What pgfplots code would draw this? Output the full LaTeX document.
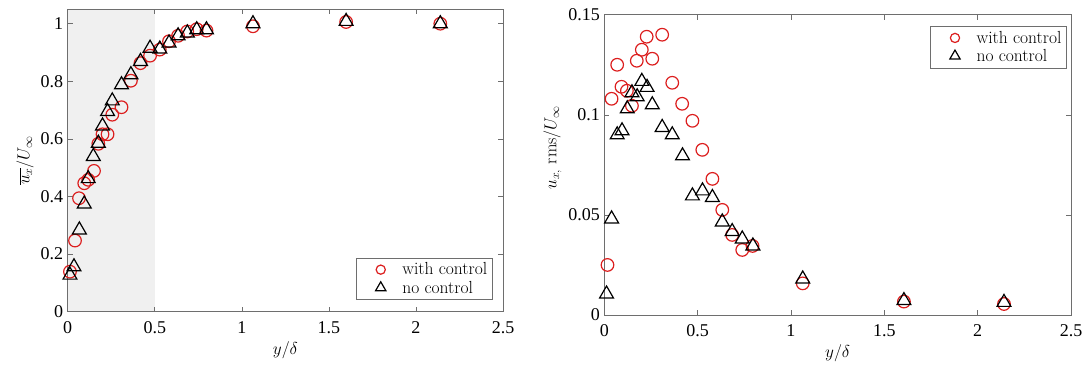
\documentclass[border=0pt]{standalone}
\usepackage{pgfplots}
\pgfplotsset{compat=1.18}
\usepackage{fontspec}
\newfontfamily\tnr{Liberation Serif}
\definecolor{mred}{RGB}{220,30,30}
\definecolor{frame}{RGB}{110,110,110}
\definecolor{shade}{RGB}{240,240,240}

\pgfplotsset{
  myax/.style={
    scale only axis,
    axis on top,
    clip=false,
    xmin=0, xmax=2.5,
    xtick={0,0.5,1,1.5,2,2.5},
    xticklabels={0,0.5,1,1.5,2,2.5},
    axis line style={frame, line width=0.7pt},
    tick style={frame, line width=0.6pt},
    tick align=inside,
    major tick length=5pt,
    /pgf/number format/assume math mode=true,
    tick label style={font=\fontsize{18}{21}\tnr},
    xticklabel style={yshift=-6pt},
    yticklabel style={xshift=-1pt},
    label style={font=\fontsize{17.5}{21}\selectfont},
    xlabel={$y/\delta$},
    xlabel style={yshift=-1pt},
    legend cell align=left,
    legend style={font=\fontsize{17.5}{21}\selectfont, draw=frame, line width=0.6pt,
      fill=white, inner xsep=3pt, inner ysep=3pt, row sep=0.5pt},
  },
  redc/.style={only marks, mark=o, mark size=6.3pt, mred, line width=1.2pt,
    legend image code/.code={\path (0pt,0pt) (40pt,0pt); \draw[##1, mark size=4.6pt] plot coordinates {(21pt,0pt)};}},
  blkt/.style={only marks, mark=triangle, mark size=8pt, black, line width=1.2pt,
    legend image code/.code={\path (0pt,0pt) (40pt,0pt); \draw[##1, mark size=6pt] plot coordinates {(21pt,0pt)};}},
}

\begin{document}
\begin{tikzpicture}[x=1pt,y=1pt]
\useasboundingbox (0,0) rectangle (1092,368);

\begin{axis}[myax,
  at={(67.7pt,56.3pt)}, anchor=south west,
  width=435.3pt, height=302.4pt,
  ymin=0, ymax=1.05,
  ytick={0,0.2,0.4,0.6,0.8,1},
  yticklabels={0,0.2,0.4,0.6,0.8,1},
  ylabel={$\overline{u_x}/U_\infty$},
  legend style={at={(0.976,0.039)}, anchor=south east},
]
\addplot[fill=shade, draw=none, forget plot] coordinates {(0,1.05) (0.5,1.05)} \closedcycle;
\addplot[redc] coordinates {
(0.013,0.139)(0.042,0.247)(0.065,0.394)(0.095,0.446)(0.118,0.458)(0.151,0.489)
(0.176,0.583)(0.200,0.616)(0.229,0.616)(0.256,0.684)(0.309,0.710)(0.363,0.802)
(0.418,0.863)(0.473,0.889)(0.529,0.910)(0.582,0.939)(0.634,0.958)(0.687,0.973)
(0.741,0.981)(0.797,0.976)(1.064,0.991)(1.599,1.006)(2.14,1.0)};
\addlegendentry{with control}
\addplot[blkt] coordinates {
(0.013,0.127)(0.036,0.156)(0.067,0.284)(0.095,0.374)(0.118,0.462)(0.147,0.539)
(0.176,0.585)(0.200,0.645)(0.229,0.695)(0.256,0.732)(0.309,0.788)(0.363,0.823)
(0.418,0.869)(0.473,0.915)(0.529,0.912)(0.582,0.933)(0.634,0.958)(0.687,0.968)
(0.741,0.979)(0.797,0.979)(1.064,1.0)(1.599,1.008)(2.14,1.0)};
\addlegendentry{no control}
\end{axis}

\begin{axis}[myax,
  at={(604.3pt,53pt)}, anchor=south west,
  width=466.7pt, height=300.3pt,
  ymin=0, ymax=0.15,
  ytick={0,0.05,0.1,0.15},
  yticklabels={0,0.05,0.1,0.15},
  scaled y ticks=false,
  ylabel={$u_{x,}$ rms$/U_\infty$},
  ylabel style={xshift=17pt},
  legend style={at={(0.991,0.963)}, anchor=north east},
]
\addplot[redc] coordinates {
(0.017,0.025)(0.039,0.108)(0.069,0.125)(0.092,0.114)(0.121,0.112)(0.148,0.1045)
(0.174,0.127)(0.201,0.1325)(0.227,0.139)(0.257,0.128)(0.310,0.140)(0.364,0.116)
(0.417,0.1055)(0.472,0.097)(0.525,0.0825)(0.579,0.068)(0.632,0.0525)(0.685,0.040)
(0.739,0.0325)(0.794,0.0345)(1.063,0.0158)(1.605,0.0067)(2.141,0.0055)};
\addlegendentry{with control}
\addplot[blkt] coordinates {
(0.012,0.0105)(0.039,0.048)(0.069,0.090)(0.095,0.092)(0.123,0.103)(0.148,0.111)
(0.176,0.109)(0.201,0.1167)(0.229,0.1137)(0.257,0.105)(0.310,0.0937)(0.364,0.090)
(0.419,0.0795)(0.472,0.0595)(0.526,0.062)(0.579,0.0587)(0.632,0.0465)(0.685,0.0417)
(0.739,0.038)(0.796,0.0345)(1.063,0.018)(1.605,0.0072)(2.141,0.0063)};
\addlegendentry{no control}
\end{axis}
\end{tikzpicture}
\end{document}
